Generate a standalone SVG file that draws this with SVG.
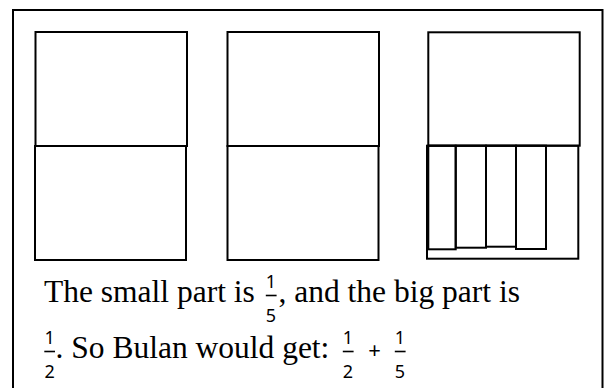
<svg xmlns="http://www.w3.org/2000/svg" width="604" height="388" viewBox="0 0 604 388">
<style>
.ln{fill:none;stroke:#000;stroke-width:2}
.t{font-family:"Liberation Serif","Times New Roman",serif;font-size:31.5px;fill:#000}
.m{font-family:"Noto Sans","DejaVu Sans",sans-serif;font-size:18px;fill:#000;text-anchor:middle}
.p{font-family:"Noto Sans","DejaVu Sans",sans-serif;font-size:22px;fill:#000;text-anchor:middle}
.bar{stroke:#000;stroke-width:1.6}
</style>
<rect width="604" height="388" fill="#fff"/>
<path class="ln" d="M13,388 V10 H602.5 V388"/>
<g id="box1">
<rect class="ln" x="35.5" y="32" width="151.5" height="114"/>
<rect class="ln" x="35" y="146" width="151" height="114"/>
</g>
<g id="box2">
<rect class="ln" x="227.5" y="32" width="151.5" height="114"/>
<rect class="ln" x="227.5" y="146" width="151" height="114"/>
</g>
<g id="box3">
<rect class="ln" x="428.3" y="32.3" width="151.4" height="113.4"/>
<rect class="ln" x="427" y="145.7" width="151.3" height="113"/>
<rect class="ln" x="428.3" y="145.7" width="27.4" height="103.6"/>
<rect class="ln" x="455.7" y="145.7" width="30.3" height="102"/>
<rect class="ln" x="486" y="145.7" width="30" height="101"/>
<rect class="ln" x="516" y="145.7" width="30" height="103.3"/>
</g>
<g id="text">
<text class="t" x="44" y="302">The small part is</text>
<text class="m" x="271" y="288">1</text>
<line class="bar" x1="265.8" y1="295.5" x2="276.6" y2="295.5"/>
<text class="m" x="271" y="322">5</text>
<text class="t" x="278.5" y="302">, and the big part is</text>
<text class="m" x="49.7" y="344">1</text>
<line class="bar" x1="44.3" y1="351.5" x2="55" y2="351.5"/>
<text class="m" x="49.7" y="378">2</text>
<text class="t" x="55.5" y="358">. So Bulan would get:</text>
<text class="m" x="348" y="344">1</text>
<line class="bar" x1="342.8" y1="351.5" x2="353.6" y2="351.5"/>
<text class="m" x="348" y="378">2</text>
<text class="p" x="374.5" y="358">+</text>
<text class="m" x="400" y="344">1</text>
<line class="bar" x1="394.8" y1="351.5" x2="405.6" y2="351.5"/>
<text class="m" x="400" y="378">5</text>
</g>
</svg>
